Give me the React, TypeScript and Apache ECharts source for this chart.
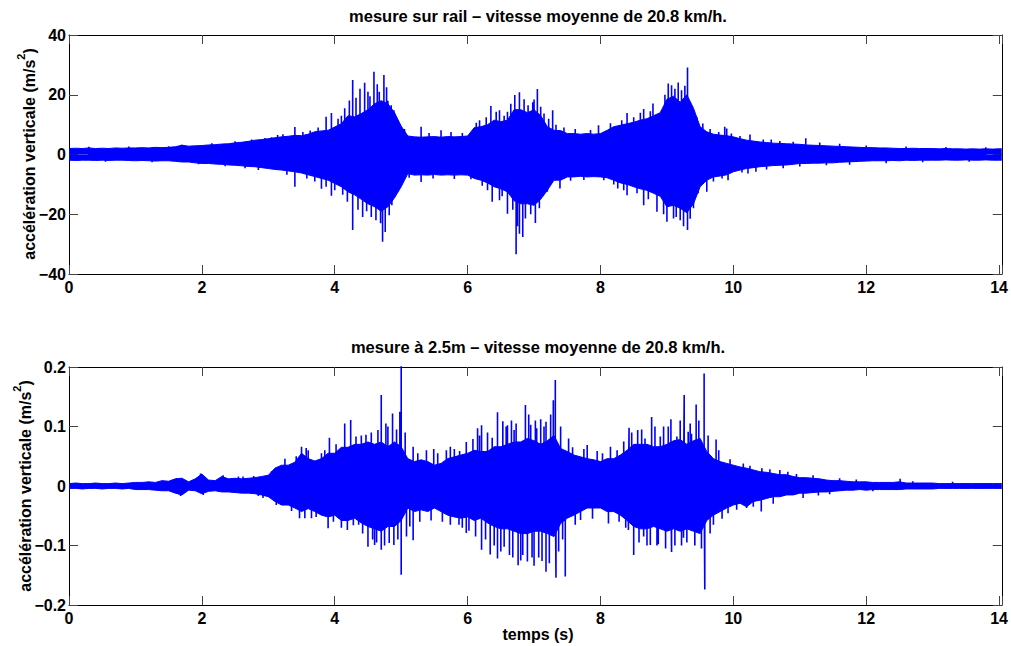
import React, { useEffect, useRef } from "react";
import * as echarts from "echarts";

// ---------------- data ----------------
const T_END = 14.04; // right edge of the time axis (s)
const xTickLabels = [0, 2, 4, 6, 8, 10, 12, 14];

const titleRail = "mesure sur rail – vitesse moyenne de 20.8 km/h.";
const titleGround = "mesure à 2.5m – vitesse moyenne de 20.8 km/h.";
const yLabelMain = "accélération verticale (m/s";
const yLabelSup = "2";
const yLabelEnd = ")";
const xLabel = "temps (s)";

// envelope sample times: every 0.1 s from 0 to 14.0 s, then the right edge
const sampleTimes: number[] = [...Array(141).keys()].map((i) => i / 10).concat([T_END]);

// rail measurement: upper / lower envelope of the dense signal (m/s²)
const railUpper = [
  2.0, 2.1, 2.0, 2.2, 2.0, 2.1, 2.0, 2.2, 2.1, 2.2,
  2.2, 2.3, 2.2, 2.4, 2.3, 2.4, 2.6, 3.1, 2.8, 2.9,
  3.0, 3.2, 3.3, 3.5, 3.6, 3.9, 4.1, 4.4, 4.8, 5.0,
  5.3, 5.6, 5.9, 6.1, 6.4, 6.3, 6.8, 7.6, 7.9, 8.1,
  9.2, 10.3, 13.0, 12.6, 13.7, 15.0, 17.0, 18.0, 17.0, 14.0,
  9.5, 6.2, 5.9, 5.8, 5.9, 6.0, 5.8, 6.0, 5.9, 6.0,
  6.2, 9.0, 9.3, 10.0, 11.5, 11.0, 11.5, 15.0, 15.0, 14.0,
  15.0, 13.0, 9.3, 8.1, 8.0, 7.0, 7.0, 6.8, 7.0, 6.8,
  7.0, 8.1, 9.3, 9.8, 10.3, 10.8, 11.5, 12.0, 13.0, 14.0,
  18.5, 19.5, 17.5, 20.0, 15.5, 9.3, 7.6, 6.8, 6.5, 6.3,
  5.9, 5.3, 4.8, 4.5, 4.2, 4.0, 3.8, 3.7, 3.6, 3.5,
  3.4, 3.2, 3.1, 3.0, 2.9, 2.8, 2.7, 2.6, 2.5, 2.4,
  2.3, 2.3, 2.2, 2.2, 2.1, 2.0, 2.0, 2.1, 2.0, 2.0,
  2.0, 1.9, 2.0, 1.9, 1.9, 1.8, 1.9, 1.8, 1.9, 1.8,
  1.9, 1.9,
];
const railLower = [
  -1.9, -2.0, -1.9, -1.9, -2.0, -1.9, -2.0, -1.9, -1.9, -2.0,
  -2.1, -2.0, -2.1, -2.2, -2.1, -2.1, -2.3, -2.5, -2.5, -2.8,
  -3.0, -3.0, -3.2, -3.3, -3.5, -3.6, -3.8, -4.0, -4.1, -4.4,
  -4.7, -5.0, -5.2, -5.5, -5.8, -6.2, -6.8, -7.4, -8.0, -8.6,
  -9.7, -10.8, -12.5, -13.5, -15.0, -16.5, -17.5, -19.0, -17.5, -14.5,
  -10.8, -6.4, -6.9, -6.8, -6.9, -6.7, -6.9, -6.8, -6.9, -6.8,
  -6.9, -8.0, -8.6, -9.5, -10.8, -11.5, -12.5, -15.5, -16.5, -16.5,
  -17.0, -15.0, -12.0, -8.6, -8.6, -7.5, -7.5, -7.3, -7.5, -7.4,
  -7.5, -7.8, -8.6, -9.5, -10.0, -10.8, -11.5, -12.0, -13.0, -14.0,
  -17.5, -17.0, -18.0, -19.5, -16.5, -10.8, -8.6, -7.5, -7.2, -6.8,
  -5.8, -5.2, -4.7, -4.4, -4.1, -3.9, -3.7, -3.6, -3.5, -3.3,
  -3.0, -3.0, -2.9, -2.9, -2.8, -2.8, -2.6, -2.5, -2.4, -2.3,
  -2.2, -2.1, -2.1, -2.1, -2.0, -2.1, -1.9, -2.0, -1.9, -1.9,
  -1.9, -1.9, -1.8, -1.9, -1.9, -1.8, -1.9, -1.9, -1.8, -1.9,
  -1.9, -1.9,
];
// rail measurement: individual peaks sticking out of the envelope [t (s), value]
const railPeaks: [number, number][] = [
  [0.30, 2.6], [0.55, -2.4], [0.90, 2.7], [1.25, -2.6], [1.50, 2.8], [1.70, 3.3],
  [1.95, -3.3], [2.15, 3.8], [2.35, -3.9], [2.50, 4.4], [2.65, -4.6], [2.75, 5.0],
  [2.85, -5.2], [2.95, 5.5], [3.05, 5.8], [3.14, 6.5], [3.22, 6.8], [3.28, -6.8],
  [3.40, 9.2], [3.40, -10.8], [3.52, 7.5], [3.58, -8.0], [3.63, 8.0], [3.70, -9.0],
  [3.75, 9.0], [3.80, -11.5], [3.87, 12.6], [3.87, -10.8], [3.95, 13.9], [3.95, -13.8],
  [4.00, -12.0], [4.05, 12.0], [4.10, 13.0], [4.12, -13.5], [4.15, 15.5], [4.19, -15.8],
  [4.22, 18.1], [4.27, 24.9], [4.27, -25.3], [4.32, 19.0], [4.35, -18.5], [4.38, 22.0],
  [4.42, -20.9], [4.45, 24.0], [4.48, -19.0], [4.50, 21.0], [4.53, 19.5], [4.55, -20.9],
  [4.59, 27.7], [4.62, -22.0], [4.64, 23.5], [4.67, 21.0], [4.69, -23.0], [4.72, -29.2],
  [4.74, 26.6], [4.76, -25.9], [4.78, 22.5], [4.80, 18.0], [4.82, -20.3], [4.85, 16.5],
  [4.86, -17.0], [4.89, 14.8], [4.93, 12.0], [4.95, -12.5],
  [5.05, 8.5], [5.12, -7.8], [5.30, 9.3], [5.30, -9.2], [5.42, 7.2], [5.48, -8.0],
  [5.60, 8.1], [5.75, 7.5], [5.80, -8.2], [5.92, 7.2], [6.05, -8.3], [6.13, 10.6],
  [6.18, 11.5], [6.22, -10.5], [6.28, 12.5], [6.30, -12.0], [6.35, 16.2], [6.37, -15.8],
  [6.43, 14.3], [6.48, 14.8], [6.48, -15.3], [6.52, -14.0], [6.55, 13.0], [6.60, 14.3],
  [6.60, -19.8], [6.65, 17.0], [6.68, -18.5], [6.71, 19.9], [6.73, -33.4], [6.75, -24.0],
  [6.78, 20.8], [6.78, -26.5], [6.83, -27.6], [6.85, 18.5], [6.87, -21.4], [6.91, 16.5],
  [6.95, -20.0], [6.98, 17.5], [7.00, 18.4], [7.02, -22.9], [7.05, 21.9], [7.08, -18.0],
  [7.10, 16.0], [7.15, 13.7], [7.20, -12.5], [7.22, 12.0], [7.28, 14.8], [7.33, 10.0],
  [7.39, -11.4], [7.45, 9.0], [7.55, -8.8], [7.62, 8.5], [7.75, -8.5], [7.85, 8.2],
  [7.97, 9.8], [8.05, -8.6], [8.15, 10.5], [8.20, -10.0], [8.26, -11.4], [8.32, 11.5],
  [8.35, -12.0], [8.40, 13.9], [8.40, -13.6], [8.50, 12.5], [8.55, -13.0], [8.60, 14.0],
  [8.65, 15.2], [8.65, -17.0], [8.72, -15.0], [8.75, 14.5], [8.79, 17.1], [8.85, -19.2],
  [8.92, 14.8], [8.95, -20.0], [8.97, 20.0], [9.00, -22.5], [9.02, 23.8], [9.07, 23.2],
  [9.10, -21.4], [9.12, 22.0], [9.14, -20.9], [9.17, 24.1], [9.20, -22.0], [9.22, 21.5],
  [9.25, -24.0], [9.27, 23.0], [9.31, 29.1], [9.31, -25.3], [9.35, -21.5], [9.37, 16.0],
  [9.40, -18.0], [9.45, 12.5], [9.47, -13.0], [9.50, -8.6], [9.54, 10.4], [9.60, -12.5],
  [9.65, 8.5], [9.70, -9.0], [9.78, 7.5], [9.83, -8.0], [9.87, 9.3], [9.90, 8.7],
  [9.92, -8.6], [9.97, 7.0],
  [10.10, 6.2], [10.13, -6.0], [10.22, -6.4], [10.25, 6.7], [10.34, -5.8], [10.45, 5.0],
  [10.50, -5.0], [10.57, 5.0], [10.70, 4.5], [10.75, -4.6], [10.90, 4.3], [11.00, -4.0],
  [11.09, 5.4], [11.30, 4.0], [11.40, -3.6], [11.60, 3.6], [11.75, -3.4], [12.00, 3.0],
  [12.30, -2.9], [12.60, 2.7], [12.85, -2.6], [13.20, 2.5], [13.55, -2.4], [13.80, 2.4],
];

// measurement at 2.5 m: upper / lower envelope (m/s²)
const groundUpper = [
  0.004, 0.005, 0.004, 0.004, 0.005, 0.004, 0.004, 0.005, 0.004, 0.005,
  0.006, 0.006, 0.007, 0.006, 0.009, 0.008, 0.012, 0.013, 0.007, 0.012,
  0.020, 0.010, 0.009, 0.016, 0.012, 0.013, 0.012, 0.013, 0.014, 0.016,
  0.018, 0.030, 0.035, 0.035, 0.040, 0.055, 0.046, 0.042, 0.046, 0.055,
  0.055, 0.065, 0.065, 0.070, 0.070, 0.074, 0.070, 0.074, 0.066, 0.074,
  0.066, 0.046, 0.041, 0.044, 0.041, 0.035, 0.038, 0.046, 0.049, 0.052,
  0.055, 0.060, 0.058, 0.058, 0.066, 0.066, 0.070, 0.074, 0.074, 0.080,
  0.076, 0.070, 0.076, 0.085, 0.063, 0.058, 0.052, 0.049, 0.046, 0.044,
  0.041, 0.046, 0.046, 0.052, 0.060, 0.070, 0.070, 0.070, 0.066, 0.066,
  0.070, 0.076, 0.078, 0.070, 0.076, 0.080, 0.058, 0.046, 0.041, 0.038,
  0.035, 0.032, 0.030, 0.027, 0.024, 0.023, 0.021, 0.019, 0.019, 0.016,
  0.014, 0.014, 0.013, 0.012, 0.010, 0.009, 0.009, 0.008, 0.007, 0.007,
  0.007, 0.006, 0.006, 0.006, 0.006, 0.007, 0.005, 0.005, 0.005, 0.005,
  0.005, 0.004, 0.004, 0.004, 0.004, 0.004, 0.004, 0.004, 0.004, 0.004,
  0.004, 0.004,
];
const groundLower = [
  -0.004, -0.004, -0.005, -0.004, -0.004, -0.005, -0.004, -0.004, -0.005, -0.004,
  -0.006, -0.006, -0.006, -0.007, -0.008, -0.008, -0.012, -0.015, -0.007, -0.008,
  -0.013, -0.009, -0.008, -0.010, -0.010, -0.011, -0.012, -0.012, -0.013, -0.015,
  -0.018, -0.026, -0.032, -0.032, -0.037, -0.043, -0.038, -0.043, -0.049, -0.052,
  -0.049, -0.058, -0.058, -0.054, -0.062, -0.068, -0.072, -0.076, -0.068, -0.068,
  -0.058, -0.037, -0.043, -0.040, -0.043, -0.037, -0.043, -0.049, -0.052, -0.054,
  -0.052, -0.058, -0.054, -0.062, -0.068, -0.072, -0.072, -0.076, -0.080, -0.080,
  -0.076, -0.076, -0.080, -0.085, -0.063, -0.054, -0.049, -0.043, -0.037, -0.037,
  -0.037, -0.043, -0.043, -0.049, -0.058, -0.068, -0.072, -0.072, -0.068, -0.072,
  -0.076, -0.072, -0.076, -0.072, -0.076, -0.080, -0.058, -0.049, -0.043, -0.037,
  -0.032, -0.029, -0.035, -0.026, -0.024, -0.021, -0.018, -0.018, -0.015, -0.015,
  -0.012, -0.012, -0.011, -0.010, -0.010, -0.009, -0.008, -0.007, -0.007, -0.006,
  -0.007, -0.006, -0.006, -0.006, -0.006, -0.006, -0.005, -0.005, -0.005, -0.005,
  -0.005, -0.004, -0.004, -0.004, -0.004, -0.004, -0.004, -0.004, -0.004, -0.004,
  -0.004, -0.004,
];
const groundPeaks: [number, number][] = [
  [1.62, 0.013], [1.68, -0.017], [1.98, 0.021], [2.02, -0.015], [2.32, 0.018], [2.55, 0.016],
  [2.62, 0.016], [2.78, 0.017], [2.85, -0.017], [2.92, -0.020], [3.05, 0.025], [3.12, -0.032],
  [3.25, 0.046], [3.35, -0.042], [3.42, 0.050], [3.47, -0.054], [3.50, 0.066], [3.55, -0.054],
  [3.57, 0.064], [3.60, 0.060], [3.65, -0.054], [3.72, -0.052], [3.80, 0.055], [3.85, 0.060],
  [3.90, -0.071], [3.92, 0.081], [3.98, -0.060], [4.02, 0.070], [4.07, -0.054], [4.10, -0.070],
  [4.15, 0.105], [4.19, -0.074], [4.24, 0.111], [4.28, -0.066], [4.32, 0.083], [4.36, -0.065],
  [4.40, 0.085], [4.42, -0.080], [4.47, 0.086], [4.50, -0.102], [4.55, 0.090], [4.57, -0.090],
  [4.60, -0.099], [4.63, -0.095], [4.65, 0.094], [4.70, 0.153], [4.70, -0.107], [4.75, -0.100],
  [4.77, 0.105], [4.80, 0.100], [4.82, -0.096], [4.87, 0.122], [4.89, -0.099], [4.93, 0.095],
  [4.95, -0.090], [4.98, 0.125], [5.00, 0.205], [5.00, -0.149], [5.06, 0.090], [5.08, -0.085],
  [5.13, -0.068], [5.18, 0.066], [5.18, -0.091], [5.25, 0.055], [5.28, -0.060], [5.38, 0.060],
  [5.45, -0.058], [5.49, 0.062], [5.55, 0.055], [5.62, -0.060], [5.68, 0.060], [5.74, 0.066],
  [5.74, -0.065], [5.80, 0.062], [5.87, -0.065], [5.88, 0.059], [5.92, -0.070], [5.98, 0.074],
  [5.98, -0.079], [6.02, -0.075], [6.08, 0.079], [6.12, -0.085], [6.15, 0.097], [6.18, 0.085],
  [6.21, 0.102], [6.21, -0.107], [6.27, -0.090], [6.30, 0.090], [6.34, -0.115], [6.37, 0.081],
  [6.40, -0.100], [6.45, 0.124], [6.45, -0.122], [6.50, -0.110], [6.53, 0.109], [6.55, -0.102],
  [6.58, 0.100], [6.60, 0.102], [6.63, -0.116], [6.66, 0.110], [6.68, -0.120], [6.70, 0.094],
  [6.73, 0.105], [6.76, -0.133], [6.80, -0.125], [6.83, -0.116], [6.87, 0.136], [6.90, -0.127],
  [6.92, 0.120], [6.95, 0.103], [6.97, -0.120], [7.00, -0.134], [7.02, 0.110], [7.04, 0.097],
  [7.07, -0.120], [7.10, 0.112], [7.12, -0.126], [7.15, 0.100], [7.18, 0.108], [7.18, -0.144],
  [7.23, -0.130], [7.25, 0.120], [7.29, 0.144], [7.32, 0.178], [7.33, -0.154], [7.37, -0.110],
  [7.40, 0.100], [7.43, -0.090], [7.47, -0.152], [7.52, 0.080], [7.58, 0.065], [7.62, -0.065],
  [7.70, -0.057], [7.75, 0.062], [7.80, 0.069], [7.88, -0.055], [7.95, 0.059], [8.03, 0.055],
  [8.12, -0.063], [8.15, 0.066], [8.25, 0.060], [8.28, -0.060], [8.35, 0.075], [8.38, -0.070],
  [8.42, -0.074], [8.43, 0.098], [8.47, 0.090], [8.50, -0.116], [8.56, 0.094], [8.58, -0.095],
  [8.62, 0.095], [8.65, -0.085], [8.67, 0.080], [8.70, -0.100], [8.75, -0.099], [8.77, 0.116],
  [8.82, 0.100], [8.85, -0.100], [8.87, -0.098], [8.90, 0.083], [8.95, 0.100], [8.98, -0.105],
  [9.02, 0.100], [9.06, 0.112], [9.07, -0.111], [9.12, -0.100], [9.15, 0.083], [9.20, 0.110],
  [9.22, -0.100], [9.25, -0.087], [9.26, 0.153], [9.30, -0.095], [9.32, 0.091], [9.35, 0.105],
  [9.37, 0.088], [9.42, -0.100], [9.44, 0.137], [9.48, 0.110], [9.52, -0.105], [9.56, 0.189],
  [9.57, -0.174], [9.62, 0.085], [9.65, -0.080], [9.70, -0.065], [9.74, 0.078], [9.78, 0.060],
  [9.83, -0.055], [9.90, 0.033], [9.92, -0.046], [9.95, 0.045],
  [10.05, -0.040], [10.15, 0.038], [10.20, -0.037], [10.25, 0.034], [10.30, -0.035],
  [10.42, -0.043], [10.43, 0.030], [10.55, 0.028], [10.60, -0.030], [10.70, 0.027],
  [10.82, 0.024], [10.95, 0.020], [11.05, -0.020], [11.20, 0.018], [11.28, -0.016],
  [11.45, -0.014], [11.60, 0.013], [11.85, 0.011], [12.10, -0.009], [12.51, 0.012],
  [12.70, 0.008], [13.30, 0.007],
];

// ---------------- styling ----------------
const BLUE = "#0000ff";
const FONT = '"Liberation Sans", Arial, Helvetica, sans-serif';

const peakPath = (peaks: [number, number][]) => {
  const sorted = [...peaks].sort((a, b) => a[0] - b[0]);
  const out: [number, number][] = [];
  for (const [t, v] of sorted) out.push([t, 0], [t, v], [t, 0]);
  return out;
};

const minusFmt = (s: string) => s.replace("-", "\u2212");

export default function App() {
  const ref = useRef<HTMLDivElement>(null);

  useEffect(() => {
    if (!ref.current) return;
    const chart = echarts.init(ref.current, undefined, { renderer: "svg" });

    const labelStyle = {
      fontFamily: FONT,
      fontWeight: "bold" as const,
      fontSize: 16,
      color: "#000",
    };
    const axisLine = { show: true, onZero: false, lineStyle: { color: "#000", width: 1 } };
    const axisTick = { show: true, inside: true, length: 9, lineStyle: { color: "#444", width: 1 } };

    const xFmt = (v: number) =>
      xTickLabels.some((k) => Math.abs(k - v) < 1e-6) ? String(Math.round(v)) : "";

    const makeX = (gridIndex: number, position: "bottom" | "top", labels: boolean) => ({
      gridIndex,
      type: "value",
      position,
      min: 0,
      max: T_END,
      interval: 2,
      axisLine,
      axisTick,
      splitLine: { show: false },
      axisLabel: labels ? { ...labelStyle, margin: 5, formatter: xFmt } : { show: false },
    });

    const makeY = (
      gridIndex: number,
      position: "left" | "right",
      min: number,
      max: number,
      interval: number,
      fmt: ((v: number) => string) | null
    ) => ({
      gridIndex,
      type: "value",
      position,
      min,
      max,
      interval,
      axisLine,
      axisTick,
      splitLine: { show: false },
      axisLabel: fmt ? { ...labelStyle, margin: 3, formatter: fmt } : { show: false },
    });

    const railFmt = (v: number) => minusFmt(String(Math.round(v)));
    const groundFmt = (v: number) => {
      const r = Math.round(v * 10) / 10;
      return r === 0 ? "0" : minusFmt(String(r));
    };

    // the band always straddles zero: fill zero->upper and zero->lower
    const envelopeSeries = (
      upper: number[],
      lower: number[],
      xAxisIndex: number,
      yAxisIndex: number
    ) =>
      [upper, lower].map((arr) => ({
        type: "line",
        xAxisIndex,
        yAxisIndex,
        data: sampleTimes.map((t, i) => [t, arr[i]]),
        showSymbol: false,
        symbol: "none",
        lineStyle: { color: BLUE, width: 1 },
        areaStyle: { color: BLUE, opacity: 1, origin: 0 },
        silent: true,
      }));

    const peakSeries = (peaks: [number, number][], xAxisIndex: number, yAxisIndex: number) => ({
      type: "line",
      xAxisIndex,
      yAxisIndex,
      data: peakPath(peaks),
      showSymbol: false,
      symbol: "none",
      lineStyle: { color: BLUE, width: 1.6 },
      silent: true,
    });

    const textEl = (text: string, x: number, y: number, rotation = 0, size = 16) => ({
      type: "text",
      x,
      y,
      rotation,
      silent: true,
      style: {
        text,
        fill: "#000",
        fontFamily: FONT,
        fontWeight: "bold",
        fontSize: size,
        align: "center",
        verticalAlign: "middle",
      },
    });

    const baseRich = { fontFamily: FONT, fontWeight: "bold", color: "#000", fill: "#000" };
    const yLabelEl = (x: number, y: number) => ({
      type: "text",
      x,
      y,
      rotation: Math.PI / 2,
      silent: true,
      style: {
        text: `{m|${yLabelMain}}{s|${yLabelSup}}{m|${yLabelEnd}}`,
        fill: "#000",
        fontFamily: FONT,
        fontWeight: "bold",
        fontSize: 16,
        align: "center",
        verticalAlign: "middle",
        rich: {
          m: { ...baseRich, fontSize: 16, lineHeight: 22, verticalAlign: "bottom" },
          s: { ...baseRich, fontSize: 11, lineHeight: 22, verticalAlign: "top" },
        },
      },
    });

    chart.setOption({
      animation: false,
      backgroundColor: "#fff",
      grid: [
        { left: 69, right: 4, top: 35, height: 239 },
        { left: 69, right: 4, top: 367, height: 238 },
      ],
      xAxis: [
        makeX(0, "bottom", true),
        makeX(0, "top", false),
        makeX(1, "bottom", true),
        makeX(1, "top", false),
      ],
      yAxis: [
        makeY(0, "left", -40, 40, 20, railFmt),
        makeY(0, "right", -40, 40, 20, null),
        makeY(1, "left", -0.2, 0.2, 0.1, groundFmt),
        makeY(1, "right", -0.2, 0.2, 0.1, null),
      ],
      series: [
        ...envelopeSeries(railUpper, railLower, 0, 0),
        peakSeries(railPeaks, 0, 0),
        ...envelopeSeries(groundUpper, groundLower, 2, 2),
        peakSeries(groundPeaks, 2, 2),
      ],
      graphic: [
        textEl(titleRail, 538, 16, 0, 16.5),
        textEl(titleGround, 538, 347, 0, 16.5),
        yLabelEl(26, 154),
        yLabelEl(22, 486),
        textEl(xLabel, 538, 634),
      ],
    });

    return () => chart.dispose();
  }, []);

  return (
    <div
      ref={ref}
      style={{ position: "fixed", left: 0, top: 0, width: 1011, height: 646, background: "#fff" }}
    />
  );
}
